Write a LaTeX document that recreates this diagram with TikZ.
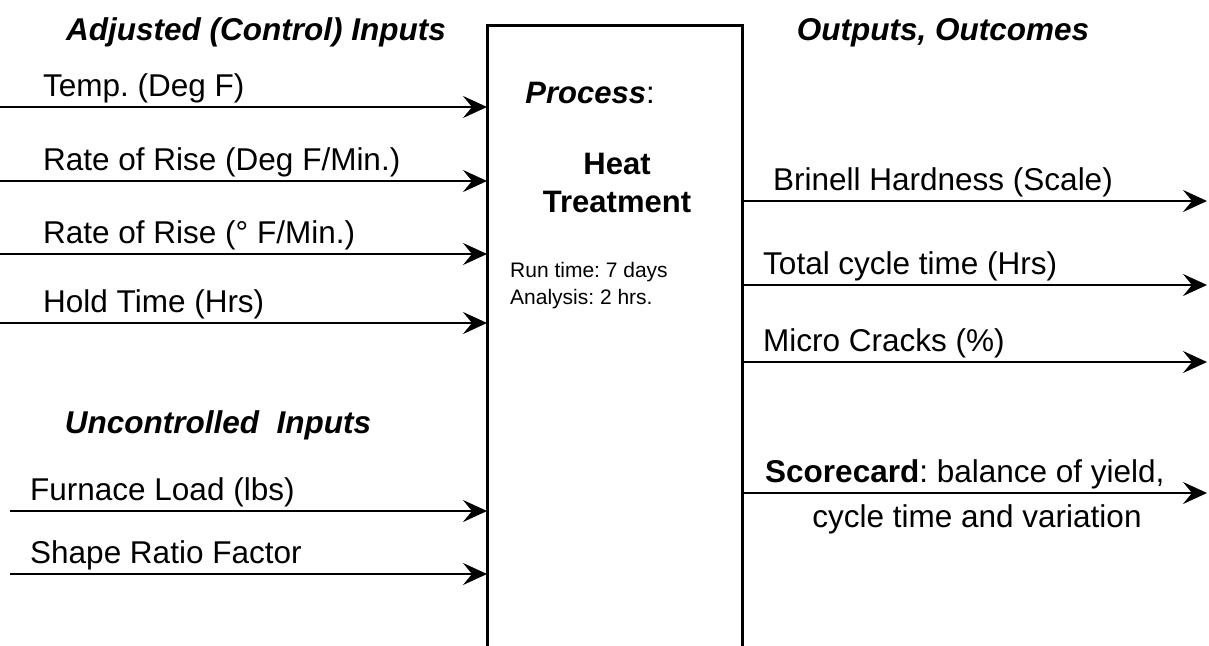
\documentclass[tikz,border=0pt]{standalone}
\usepackage{fontspec}
\setmainfont{Liberation Sans}
\usetikzlibrary{arrows.meta}
\frenchspacing
\tikzset{
  flow/.style={line width=2.6pt, -{Stealth[length=24pt,width=22pt,inset=9pt]}},
  lbl/.style={anchor=base west, inner sep=0pt, font=\fontsize{31.5}{36}\selectfont},
  head/.style={anchor=base, inner sep=0pt, font=\fontsize{31.5}{36}\selectfont\bfseries\itshape},
}
\begin{document}
\begin{tikzpicture}[x=1pt, y=-1pt]
\useasboundingbox (0,0) rectangle (1209,645);
% process box, open at the bottom
\draw[line width=3pt] (487,650) -- (487,25) coordinate (nw) -- (742,25) -- (742,650);
\coordinate (boxl) at (487,0);
\coordinate (boxr) at (742,0);

\node[head] (hin) at (256,40) {Adjusted (Control) Inputs};
\node[head] (hout) at (943,40) {Outputs, Outcomes};
\node[head] (hunc) at (218,433) {Uncontrolled\ \ Inputs};

\node[anchor=base, inner sep=0pt, font=\fontsize{31}{36}\selectfont] (proc) at (590,103) {\textbf{\textit{Process}}:};
\node[align=center, inner sep=0pt, font=\fontsize{31}{38}\selectfont\bfseries] (heat) at (617,183) {Heat\\Treatment};
\node[align=left, anchor=north west, inner sep=0pt, font=\fontsize{21}{27}\selectfont] (run) at (510,262) {Run time: 7 days\\Analysis: 2 hrs.};

% adjusted inputs
\foreach \name/\y/\txt in {temp/107/{Temp. (Deg F)}, rise/181/{Rate of Rise (Deg F/Min.)}, riseb/254/{Rate of Rise (\textdegree\ F/Min.)}, hold/323/{Hold Time (Hrs)}} {
  \coordinate (\name a) at (0,\y);
  \coordinate (\name b) at (boxl |- \name a);
  \node[lbl] (\name) at (43,\y-11) {\txt};
  \draw[flow] (\name a) -- (\name b);
}
% uncontrolled inputs
\foreach \name/\y/\txt in {load/511/{Furnace Load (lbs)}, shape/574/{Shape Ratio Factor}} {
  \coordinate (\name a) at (10,\y);
  \coordinate (\name b) at (boxl |- \name a);
  \node[lbl] (\name) at (30,\y-11) {\txt};
  \draw[flow] (\name a) -- (\name b);
}
% outputs
\foreach \name/\y/\x/\txt in {brin/201/773/{Brinell Hardness (Scale)}, cycle/285/763/{Total cycle time (Hrs)}, crack/362/763/{Micro Cracks (\%)}} {
  \coordinate (\name a) at (boxr |- 0,\y);
  \coordinate (\name b) at (1207,\y);
  \node[lbl] (\name) at (\x,\y-11) {\txt};
  \draw[flow] (\name a) -- (\name b);
}
\coordinate (scorea) at (boxr |- 0,493);
\coordinate (scoreb) at (1207,493);
\node[lbl] (score) at (765,482) {\textbf{Scorecard}: balance of yield,};
\node[anchor=base, inner sep=0pt, font=\fontsize{31.5}{36}\selectfont] (scoreb2) at (977,527) {cycle time and variation};
\draw[flow] (scorea) -- (scoreb);
\end{tikzpicture}
\end{document}
